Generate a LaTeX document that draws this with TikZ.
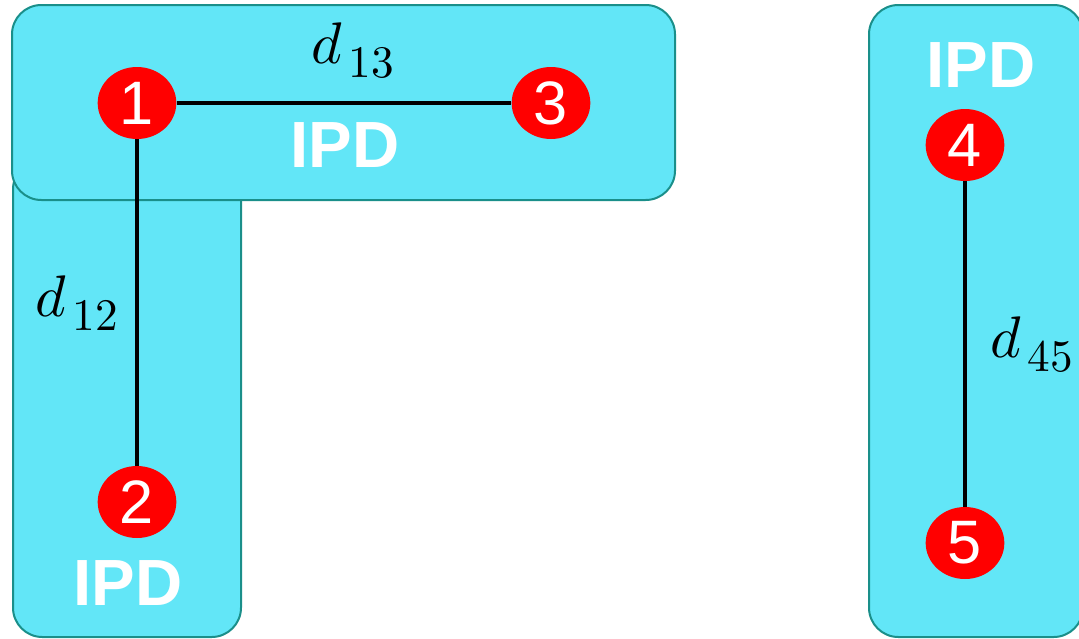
\documentclass[tikz,border=0pt]{standalone}
\usepackage{fontspec}
\usepackage{unicode-math}
\setmathfont{Latin Modern Math}
\newfontfamily\arialfont{Liberation Sans}
\usetikzlibrary{shapes.geometric}
\definecolor{zonefill}{HTML}{62E6F7}
\definecolor{zoneedge}{HTML}{1A8F8A}
\definecolor{dotred}{HTML}{FF0000}
% distance label: d with a slightly spaced, enlarged index
\newcommand{\distlabel}[1]{$d_{\mkern3mu\scalebox{1.1}{$\scriptstyle #1$}}$}
\tikzset{
  zone/.style={draw=zoneedge, fill=zonefill, line width=1.5pt, rounded corners=22pt},
  dot/.style={ellipse, fill=dotred, inner sep=0pt, text=white,
    minimum width=59pt, minimum height=54pt, font=\arialfont\fontsize{46}{50}\selectfont},
  link/.style={line width=3pt, black},
  tag/.style={text=white, inner sep=0pt, font=\arialfont\bfseries\fontsize{49}{54}\selectfont},
  dist/.style={inner sep=0pt, font=\fontsize{44}{50}\selectfont}
}
\begin{document}
\begin{tikzpicture}[x=0.75pt, y=-0.75pt]
  \useasboundingbox (0,0) rectangle (1079,639);
  \clip (0,0) rectangle (1079,639);
  % cluster zones
  \draw[zone] (13,160) rectangle (241,637);
  \draw[zone] (12,5) rectangle (675,200);
  \draw[zone] (869,5) rectangle (1083,637);
  % points
  \node[dot] (p1) at (137,103) {1};
  \node[dot] (p3) at (551,103) {3};
  \node[dot] (p2) at (137,502) {2};
  \node[dot] (p4) at (965,145) {4};
  \node[dot] (p5) at (965,543) {5};
  % distances
  \draw[link] (p1) -- (p3);
  \draw[link] (p1) -- (p2);
  \draw[link] (p4) -- (p5);
  % labels
  \node[tag] (t1) at (345,145) {IPD};
  \node[tag] (t2) at (128,583) {IPD};
  \node[tag] (t3) at (981,65) {IPD};
  \node[dist, anchor=base west] (d13) at (311,63) {\distlabel{13}};
  \node[dist, anchor=base west] (d12) at (35,316) {\distlabel{12}};
  \node[dist, anchor=base west] (d45) at (990,357) {\distlabel{45}};
\end{tikzpicture}
\end{document}
